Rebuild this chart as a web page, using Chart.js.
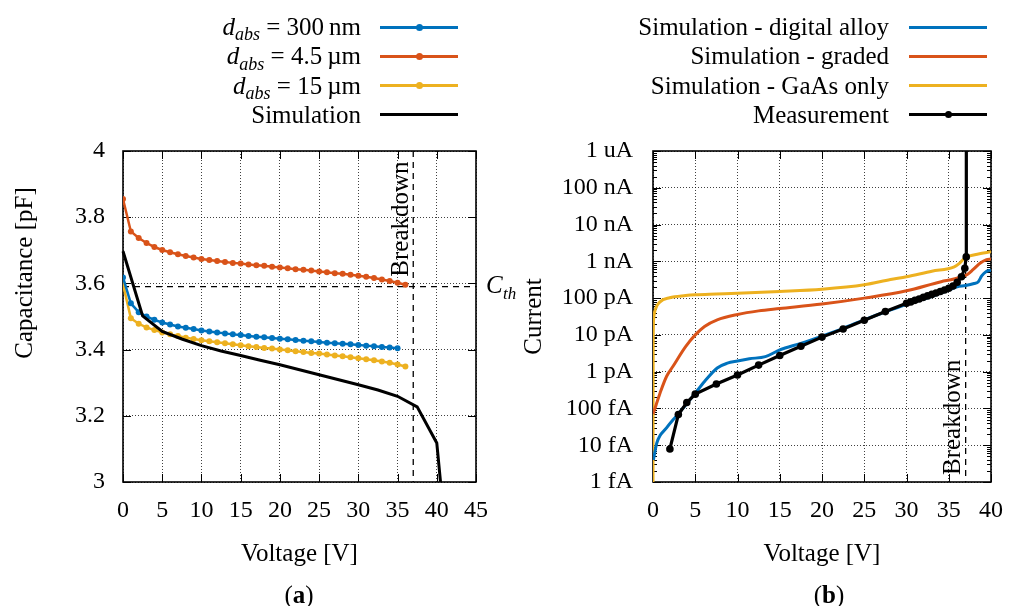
<!DOCTYPE html>
<html>
<head>
<meta charset="utf-8">
<title>C-V and I-V characteristics</title>
<script src="https://cdn.jsdelivr.net/npm/chart.js@4.4.1/dist/chart.umd.min.js"></script>
<style>
  body { margin: 0; background: #fff; }
  #page { position: relative; width: 1017px; height: 606px; overflow: hidden;
          font-family: "Liberation Serif", "DejaVu Serif", serif; color: #000; }
  canvas { position: absolute; top: 0; }
  #capChart { left: 0; }
  #curChart { left: 508px; }
  .lg-text { position: absolute; font-size: 25px; line-height: 30px; white-space: nowrap; }
  .lg-line { position: absolute; width: 78px; height: 3px; }
  .lg-dot { position: absolute; width: 7px; height: 7px; border-radius: 50%; }
  .sub { font-size: 0.72em; font-style: italic; position: relative; top: 0.3em; }
  .panel { position: absolute; top: 580px; font-size: 25px; line-height: 30px; transform: translateX(-50%); }
</style>
</head>
<body>
<div id="page">
  <canvas id="capChart" width="530" height="606"></canvas>
  <canvas id="curChart" width="509" height="606"></canvas>
  <div class="panel" style="left:299px">(<b>a</b>)</div>
  <div class="panel" style="left:829px">(<b>b</b>)</div>
</div>
<script>
// ---------- (a) capacitance vs. reverse voltage ----------
const sweepVoltage = [0, 1, 2, 3, 4, 5, 6, 7, 8, 9, 10, 11, 12, 13, 14, 15, 16, 17, 18,
  19, 20, 21, 22, 23, 24, 25, 26, 27, 28, 29, 30, 31, 32, 33, 34, 35, 36];
const cap300nm = [3.618, 3.540, 3.513, 3.500, 3.490, 3.482, 3.476, 3.470, 3.466, 3.462,
  3.458, 3.455, 3.452, 3.449, 3.446, 3.444, 3.441, 3.439, 3.437, 3.435, 3.433, 3.431,
  3.429, 3.427, 3.425, 3.423, 3.421, 3.419, 3.418, 3.416, 3.414, 3.412, 3.410, 3.408,
  3.406, 3.404];
const cap4500nm = [3.855, 3.757, 3.737, 3.722, 3.710, 3.701, 3.694, 3.688, 3.683, 3.678,
  3.674, 3.671, 3.668, 3.665, 3.662, 3.660, 3.657, 3.655, 3.653, 3.650, 3.648, 3.646,
  3.643, 3.641, 3.639, 3.636, 3.634, 3.631, 3.629, 3.626, 3.623, 3.620, 3.616, 3.612,
  3.607, 3.602, 3.596];
const cap15um = [3.598, 3.495, 3.478, 3.467, 3.459, 3.452, 3.446, 3.441, 3.436, 3.432,
  3.428, 3.425, 3.422, 3.419, 3.416, 3.413, 3.410, 3.408, 3.405, 3.403, 3.400, 3.398,
  3.395, 3.393, 3.390, 3.388, 3.385, 3.382, 3.380, 3.377, 3.374, 3.371, 3.368, 3.364,
  3.360, 3.355, 3.349];
const simVoltage = [0, 2.5, 5, 7.5, 10, 12.5, 15, 17.5, 20, 22.5, 25, 27.5, 30, 32.5, 35, 37.5, 40, 42.5];
const capSimulation = [3.697, 3.502, 3.455, 3.432, 3.412, 3.396, 3.382, 3.368, 3.354, 3.339,
  3.324, 3.309, 3.294, 3.278, 3.259, 3.227, 3.118, 2.5];

const capTicks = [3, 3.2, 3.4, 3.6, 3.8, 4];
const capTickLabels = ['3', '3.2', '3.4', '3.6', '3.8', '4'];

const breakdownVoltage = 37;
const thresholdCapacitance = 3.59;

// ---------- (b) dark current vs. reverse voltage ----------
const alloyVoltage = [0.05, 0.45, 1.6, 2.7, 3.9, 5, 6.1, 7.6, 8.8, 10, 11.4, 13.3, 15, 17.5,
  20, 22.5, 25, 27.5, 30, 32.5, 35, 36, 37, 38, 38.5, 38.9, 39.4, 40];
const alloyCurrent = [4.0e-15, 1.15e-14, 2.95e-14, 6.0e-14, 1.26e-13, 2.6e-13, 5.4e-13,
  1.26e-12, 1.7e-12, 1.95e-12, 2.24e-12, 2.57e-12, 3.9e-12, 5.9e-12, 9.3e-12, 1.51e-11,
  2.57e-11, 4.2e-11, 6.8e-11, 1.02e-10, 1.66e-10, 2.04e-10, 2.19e-10, 2.5e-10, 2.8e-10,
  4.0e-10, 5.2e-10, 5.75e-10];
const gradedVoltage = [0, 0.3, 0.83, 1.6, 2.35, 3.86, 5, 6.1, 7.6, 10, 12.5, 15, 20, 25, 30,
  34.1, 35.6, 37.2, 37.9, 38.7, 39.4, 40];
const gradedCurrent = [7.1e-14, 1.12e-13, 2.6e-13, 7.4e-13, 1.38e-12, 4.8e-12, 1.0e-11,
  1.7e-11, 2.57e-11, 3.6e-11, 4.5e-11, 5.2e-11, 6.9e-11, 1.0e-10, 1.58e-10, 2.8e-10,
  3.3e-10, 4.4e-10, 6.0e-10, 8.9e-10, 1.1e-9, 1.15e-9];
const gaasVoltage = [0, 0.02, 0.08, 0.26, 0.83, 1.97, 3.86, 5, 7.5, 10, 15, 20, 25, 28.1, 30,
  33, 35.65, 36.3, 36.8, 37.5, 38.5, 40];
const gaasCurrent = [1e-15, 5e-12, 2.8e-11, 4.8e-11, 7.9e-11, 1.02e-10, 1.17e-10, 1.23e-10,
  1.29e-10, 1.35e-10, 1.51e-10, 1.74e-10, 2.3e-10, 3.2e-10, 3.8e-10, 5.4e-10, 7.1e-10,
  8.9e-10, 1.17e-9, 1.41e-9, 1.58e-9, 1.82e-9];
const measVoltage = [2, 3, 4, 5, 7.5, 10, 12.5, 15, 17.5, 20, 22.5, 25, 27.5, 30, 30.5, 31,
  31.5, 32, 32.5, 33, 33.5, 34, 34.5, 35, 35.5, 36, 36.5, 36.9, 37.07, 37.08];
const measCurrent = [7.9e-15, 6.8e-14, 1.45e-13, 2.45e-13, 4.6e-13, 8.1e-13, 1.51e-12,
  2.75e-12, 4.9e-12, 8.7e-12, 1.45e-11, 2.5e-11, 4.3e-11, 7.2e-11, 7.9e-11, 8.7e-11,
  9.5e-11, 1.05e-10, 1.15e-10, 1.26e-10, 1.38e-10, 1.51e-10, 1.66e-10, 1.86e-10, 2.14e-10,
  2.7e-10, 3.8e-10, 6.5e-10, 1.32e-9, 1e-5];

const currentTicks = [1e-15, 1e-14, 1e-13, 1e-12, 1e-11, 1e-10, 1e-9, 1e-8, 1e-7, 1e-6];
const currentTickLabels = ['1 fA', '10 fA', '100 fA', '1 pA', '10 pA', '100 pA', '1 nA',
  '10 nA', '100 nA', '1 uA'];

const BLUE = '#0072bd';
const ORANGE = '#d95319';
const YELLOW = '#edb120';
const FONT = '"Liberation Serif", "DejaVu Serif", serif';

Chart.defaults.font.family = FONT;
Chart.defaults.font.size = 24;
Chart.defaults.color = '#000';

function zip(xs, ys) {
  return ys.map((y, i) => ({ x: xs[i], y: y }));
}

// box around the plot with inward tick marks (gnuplot style)
const framePlugin = {
  id: 'frame',
  beforeDatasetsDraw(chart, args, opts) {
    const { ctx, chartArea: a, scales: { x, y } } = chart;
    ctx.save();
    ctx.strokeStyle = '#000';
    ctx.lineWidth = 1;
    ctx.beginPath();
    x.ticks.forEach(t => {
      const px = Math.round(x.getPixelForValue(t.value)) + 0.5;
      ctx.moveTo(px, a.bottom); ctx.lineTo(px, a.bottom - 8);
      ctx.moveTo(px, a.top); ctx.lineTo(px, a.top + 8);
    });
    y.ticks.forEach(t => {
      const py = Math.round(y.getPixelForValue(t.value)) + 0.5;
      ctx.moveTo(a.left, py); ctx.lineTo(a.left + 8, py);
      ctx.moveTo(a.right, py); ctx.lineTo(a.right - 8, py);
    });
    if (opts.minor) {
      currentTicks.slice(0, -1).forEach(d => {
        for (let k = 2; k < 10; k++) {
          const py = Math.round(y.getPixelForValue(d * k)) + 0.5;
          ctx.moveTo(a.left, py); ctx.lineTo(a.left + 4, py);
          ctx.moveTo(a.right, py); ctx.lineTo(a.right - 4, py);
        }
      });
    }
    ctx.stroke();
    ctx.lineWidth = 1.6;
    ctx.strokeRect(a.left, a.top, a.width, a.height);
    ctx.restore();
  }
};

function breakdownText(ctx, x, y) {
  ctx.save();
  ctx.fillStyle = '#000';
  ctx.font = '25px ' + FONT;
  ctx.translate(x, y);
  ctx.rotate(-Math.PI / 2);
  ctx.textAlign = 'left';
  ctx.textBaseline = 'alphabetic';
  ctx.fillText('Breakdown', 0, 0);
  ctx.restore();
}

const capMarks = {
  id: 'capMarks',
  beforeDatasetsDraw(chart) {
    const { ctx, chartArea: a, scales: { x, y } } = chart;
    const bx = x.getPixelForValue(breakdownVoltage);
    const cy = y.getPixelForValue(thresholdCapacitance);
    ctx.save();
    ctx.strokeStyle = '#000';
    ctx.lineWidth = 1.3;
    ctx.setLineDash([6, 5]);
    ctx.beginPath();
    ctx.moveTo(bx, a.top); ctx.lineTo(bx, a.bottom);
    ctx.moveTo(a.left, cy); ctx.lineTo(a.right, cy);
    ctx.stroke();
    ctx.setLineDash([]);
    ctx.fillStyle = '#000';
    ctx.textAlign = 'left';
    ctx.textBaseline = 'alphabetic';
    ctx.font = 'italic 25px ' + FONT;
    ctx.fillText('C', a.right + 10, cy + 6);
    ctx.font = 'italic 17px ' + FONT;
    ctx.fillText('th', a.right + 27, cy + 12);
    // y axis title sits a bit above the middle of the axis
    ctx.font = '25px ' + FONT;
    ctx.translate(25, 273);
    ctx.rotate(-Math.PI / 2);
    ctx.textAlign = 'center';
    ctx.textBaseline = 'middle';
    ctx.fillText('Capacitance [pF]', 0, 0);
    ctx.restore();
    breakdownText(ctx, bx - 5, cy - 10);
  }
};

const curMarks = {
  id: 'curMarks',
  beforeDatasetsDraw(chart) {
    const { ctx, chartArea: a, scales: { x } } = chart;
    const bx = x.getPixelForValue(breakdownVoltage);
    ctx.save();
    ctx.strokeStyle = '#000';
    ctx.lineWidth = 1.3;
    ctx.setLineDash([6, 5]);
    ctx.beginPath();
    ctx.moveTo(bx, a.top); ctx.lineTo(bx, a.bottom);
    ctx.stroke();
    ctx.restore();
    breakdownText(ctx, bx - 6, a.bottom - 7);
  }
};

const gridOpts = { drawTicks: false, color: 'rgba(0,0,0,0.75)', lineWidth: 1 };
const borderOpts = { display: false, dash: [1, 2] };

new Chart(document.getElementById('capChart'), {
  type: 'line',
  data: {
    datasets: [
      { label: 'd_abs = 300 nm', data: zip(sweepVoltage, cap300nm), borderColor: BLUE,
        backgroundColor: BLUE, borderWidth: 2.5, pointRadius: 3, pointBorderWidth: 0 },
      { label: 'd_abs = 4.5 µm', data: zip(sweepVoltage, cap4500nm), borderColor: ORANGE,
        backgroundColor: ORANGE, borderWidth: 2.5, pointRadius: 3, pointBorderWidth: 0 },
      { label: 'd_abs = 15 µm', data: zip(sweepVoltage, cap15um), borderColor: YELLOW,
        backgroundColor: YELLOW, borderWidth: 2.5, pointRadius: 3, pointBorderWidth: 0 },
      { label: 'Simulation', data: zip(simVoltage, capSimulation), borderColor: '#000',
        borderWidth: 3, pointRadius: 0, order: -1,
        clip: { left: 5, right: 5, top: 5, bottom: 0 } }
    ]
  },
  options: {
    responsive: false,
    animation: false,
    layout: { padding: { left: 0, top: 151, right: 54, bottom: 0 } },
    plugins: { legend: { display: false }, tooltip: { enabled: false }, frame: {} },
    scales: {
      x: {
        type: 'linear', min: 0, max: 45,
        afterFit: s => { s.height = 124; },
        ticks: { stepSize: 5, padding: 14, maxRotation: 0 },
        grid: gridOpts, border: borderOpts,
        title: { display: true, text: 'Voltage [V]', font: { size: 25 }, padding: { top: 0, bottom: 37 } }
      },
      y: {
        min: 3, max: 4,
        afterFit: s => { s.width = 123; },
        afterBuildTicks: s => { s.ticks = capTicks.map(v => ({ value: v })); },
        ticks: { padding: 18, callback: (v, i) => capTickLabels[i] },
        grid: gridOpts, border: borderOpts
      }
    }
  },
  plugins: [framePlugin, capMarks]
});

new Chart(document.getElementById('curChart'), {
  type: 'line',
  data: {
    datasets: [
      { label: 'Simulation - digital alloy', data: zip(alloyVoltage, alloyCurrent),
        borderColor: BLUE, borderWidth: 3, pointRadius: 0, cubicInterpolationMode: 'monotone' },
      { label: 'Simulation - graded', data: zip(gradedVoltage, gradedCurrent),
        borderColor: ORANGE, borderWidth: 3, pointRadius: 0, cubicInterpolationMode: 'monotone' },
      { label: 'Simulation - GaAs only', data: zip(gaasVoltage, gaasCurrent),
        borderColor: YELLOW, borderWidth: 3, pointRadius: 0, cubicInterpolationMode: 'monotone' },
      { label: 'Measurement', data: zip(measVoltage, measCurrent), borderColor: '#000',
        backgroundColor: '#000', borderWidth: 3.2, pointRadius: 3.8, pointBorderWidth: 0,
        order: -1, clip: { left: 5, right: 5, top: 0, bottom: 5 } }
    ]
  },
  options: {
    responsive: false,
    animation: false,
    layout: { padding: { left: 0, top: 151, right: 12, bottom: 0 } },
    plugins: { legend: { display: false }, tooltip: { enabled: false }, frame: { minor: true } },
    scales: {
      x: {
        type: 'linear', min: 0, max: 40,
        afterFit: s => { s.height = 124; },
        ticks: { stepSize: 5, padding: 14, maxRotation: 0 },
        grid: gridOpts, border: borderOpts,
        title: { display: true, text: 'Voltage [V]', font: { size: 25 }, padding: { top: 0, bottom: 37 } }
      },
      y: {
        type: 'logarithmic', min: 1e-15, max: 1e-6,
        afterFit: s => { s.width = 145; },
        afterBuildTicks: s => { s.ticks = currentTicks.map(v => ({ value: v })); },
        ticks: { padding: 20, autoSkip: false, callback: (v, i) => currentTickLabels[i] },
        grid: gridOpts, border: borderOpts,
        title: { display: true, text: 'Current', font: { size: 25 }, padding: { top: 11, bottom: 0 } }
      }
    }
  },
  plugins: [framePlugin, curMarks]
});

// legends: right-aligned label followed by a line sample
function buildLegend(items, textRight, lineLeft) {
  const page = document.getElementById('page');
  items.forEach((item, i) => {
    const cy = 27 + i * 29.3;
    const txt = document.createElement('div');
    txt.className = 'lg-text';
    txt.style.right = (1017 - textRight) + 'px';
    txt.style.top = (cy - 15) + 'px';
    txt.innerHTML = item.label;
    page.appendChild(txt);
    const line = document.createElement('div');
    line.className = 'lg-line';
    line.style.left = lineLeft + 'px';
    line.style.top = (cy - 1.5) + 'px';
    line.style.background = item.color;
    page.appendChild(line);
    if (item.dot) {
      const dot = document.createElement('div');
      dot.className = 'lg-dot';
      dot.style.left = (lineLeft + 35.5) + 'px';
      dot.style.top = (cy - 3.5) + 'px';
      dot.style.background = item.color;
      page.appendChild(dot);
    }
  });
}

buildLegend([
  { label: '<i>d</i><span class="sub">abs</span> = 300\u2009nm', color: BLUE, dot: true },
  { label: '<i>d</i><span class="sub">abs</span> = 4.5\u2009µm', color: ORANGE, dot: true },
  { label: '<i>d</i><span class="sub">abs</span> = 15\u2009µm', color: YELLOW, dot: true },
  { label: 'Simulation', color: '#000', dot: false }
], 361, 380);

buildLegend([
  { label: 'Simulation - digital alloy', color: BLUE, dot: false },
  { label: 'Simulation - graded', color: ORANGE, dot: false },
  { label: 'Simulation - GaAs only', color: YELLOW, dot: false },
  { label: 'Measurement', color: '#000', dot: true }
], 889, 909);
</script>
</body>
</html>
